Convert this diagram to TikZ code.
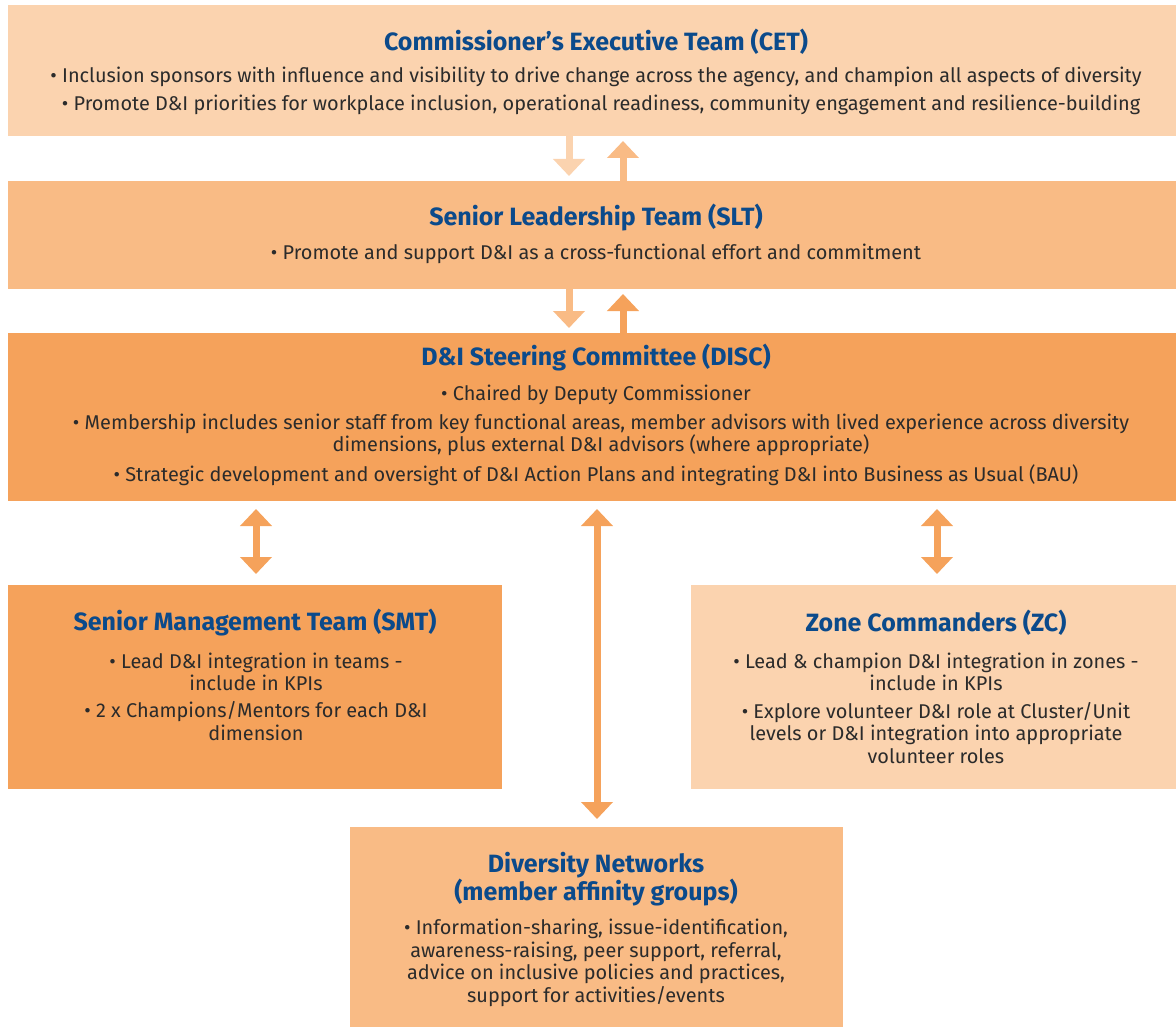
\documentclass[tikz,border=0pt]{standalone}
\usepackage{fontspec}
\setmainfont{Fira Sans}
\usetikzlibrary{arrows.meta}
\definecolor{cA}{HTML}{FBD3AF}
\definecolor{cB}{HTML}{F9BB85}
\definecolor{cC}{HTML}{F5A25B}
\definecolor{ttl}{HTML}{0B4A8B}
\definecolor{txt}{HTML}{2B2B2B}
\tikzset{
  box/.style={rectangle, inner sep=0pt, outer sep=0pt, anchor=north west},
  ttlnode/.style={text=ttl, font=\fontsize{25}{28}\selectfont\bfseries, align=center, inner sep=0pt, yshift=-2pt},
  bodynode/.style={text=txt, font=\fontsize{19.9}{22.5}\selectfont, align=center, inner sep=0pt, yshift=-2pt},
  arr/.style={line width=7pt, -{Triangle[width=31pt,length=17pt]}},
  darr/.style={line width=7pt, {Triangle[width=31pt,length=17pt]}-{Triangle[width=31pt,length=17pt]}},
}
\begin{document}
\begin{tikzpicture}[x=1pt,y=-1pt]
\useasboundingbox (0,0) rectangle (1176,1027);
% boxes
\node[box, fill=cA, minimum width=1168pt, minimum height=131pt] (cet) at (8,5) {};
\node[box, fill=cB, minimum width=1168pt, minimum height=108pt] (slt) at (8,181) {};
\node[box, fill=cC, minimum width=1168pt, minimum height=168pt] (disc) at (8,333) {};
\node[box, fill=cC, minimum width=494pt, minimum height=204pt] (smt) at (8,585) {};
\node[box, fill=cA, minimum width=485pt, minimum height=204pt] (zc) at (691,585) {};
\node[box, fill=cB, minimum width=493pt, minimum height=200pt] (dn) at (350,827) {};
% CET text
\node[ttlnode] (cett) at (596,40) {Commissioner's Executive Team (CET)};
\node[bodynode] (cetb1) at (596,75) {• Inclusion sponsors with influence and visibility to drive change across the agency, and champion all aspects of diversity};
\node[bodynode] (cetb2) at (601,103) {• Promote D\&I priorities for workplace inclusion, operational readiness, community engagement and resilience-building};
% SLT text
\node[ttlnode] (sltt) at (596,216) {Senior Leadership Team (SLT)};
\node[bodynode] (sltb1) at (596,252) {• Promote and support D\&I as a cross-functional effort and commitment};
% DISC text
\node[ttlnode] (disct) at (596,356) {D\&I Steering Committee (DISC)};
\node[bodynode] (discb1) at (596,393) {• Chaired by Deputy Commissioner};
\node[bodynode] (discb2) at (601,433) {• Membership includes senior staff from key functional areas, member advisors with lived experience across diversity\\dimensions, plus external D\&I advisors (where appropriate)};
\node[bodynode] (discb3) at (596,473) {• Strategic development and oversight of D\&I Action Plans and integrating D\&I into Business as Usual (BAU)};
% SMT text
\node[ttlnode] (smtt) at (255,621) {Senior Management Team (SMT)};
\node[bodynode] (smtb1) at (256,670) {• Lead D\&I integration in teams -\\include in KPIs};
\node[bodynode] (smtb2) at (256,719) {• 2 x Champions/Mentors for each D\&I\\dimension};
% ZC text
\node[ttlnode] (zct) at (936,621) {Zone Commanders (ZC)};
\node[bodynode] (zcb1) at (936,670) {• Lead \& champion D\&I integration in zones -\\include in KPIs};
\node[bodynode] (zcb2) at (936,731) {• Explore volunteer D\&I role at Cluster/Unit\\levels or D\&I integration into appropriate\\volunteer roles};
% DN text
\node[ttlnode] (dnt) at (596,877) {Diversity Networks\\(member affinity groups)};
\node[bodynode] (dnb1) at (596,961) {• Information-sharing, issue-identification,\\awareness-raising, peer support, referral,\\advice on inclusive policies and practices,\\support for activities/events};
% arrows
\draw[arr, draw=cA] (cet.south -| 569,0) -- ([yshift=5pt]slt.north -| 569,0);
\draw[arr, draw=cB] (slt.north -| 623,0) -- ([yshift=-5pt]cet.south -| 623,0);
\draw[arr, draw=cB] (slt.south -| 569,0) -- ([yshift=5pt]disc.north -| 569,0);
\draw[arr, draw=cC] (disc.north -| 623,0) -- ([yshift=-5pt]slt.south -| 623,0);
\draw[darr, draw=cC] ([yshift=-8pt]disc.south -| 256,0) -- ([yshift=11pt]smt.north -| 256,0);
\draw[darr, draw=cC] ([yshift=-8pt]disc.south -| 597,0) -- ([yshift=8pt]dn.north -| 597,0);
\draw[darr, draw=cC] ([yshift=-8pt]disc.south -| 937,0) -- ([yshift=11pt]zc.north -| 937,0);
\end{tikzpicture}
\end{document}
